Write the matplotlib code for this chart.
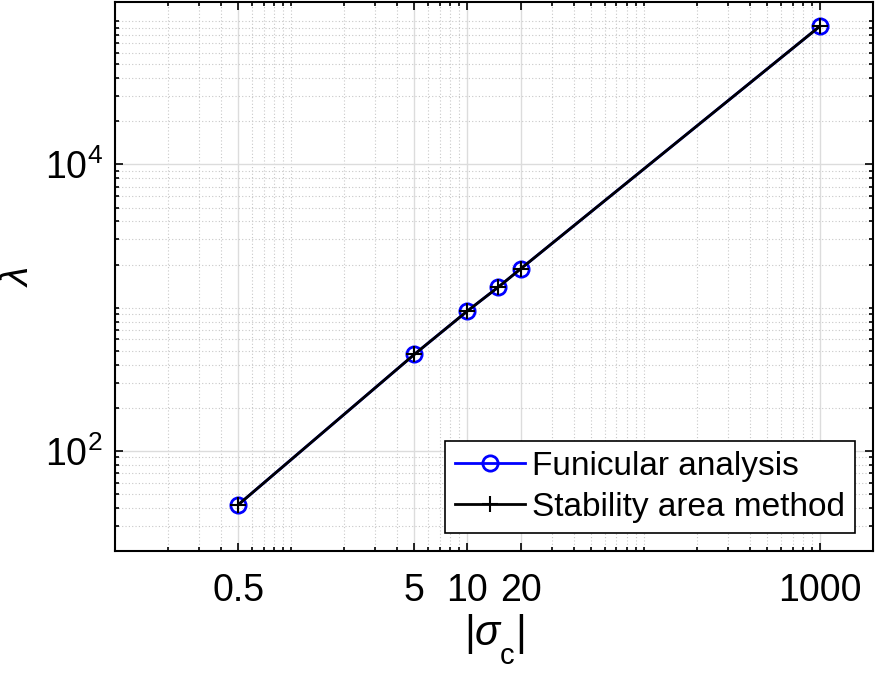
import numpy as np
import matplotlib
matplotlib.use("Agg")
import matplotlib.pyplot as plt
from matplotlib.ticker import LogLocator, FixedLocator, FixedFormatter, NullFormatter
try:
    import matplotlib._mathtext as _mt
    _mt.FontConstantsBase.sub1 = 0.85
except Exception:
    pass

plt.rcParams['font.family'] = ['Liberation Sans', 'DejaVu Sans']
plt.rcParams['mathtext.fontset'] = 'custom'
plt.rcParams['mathtext.rm'] = 'Liberation Sans'
plt.rcParams['mathtext.it'] = 'Liberation Sans:italic'
plt.rcParams['mathtext.bf'] = 'Liberation Sans:bold'

sigma_c = [0.5, 5, 10, 15, 20, 1000]
lam_funicular = [42, 472, 948, 1395, 1862, 92200]
lam_stability = [42, 472, 948, 1395, 1862, 92200]

x_ticks = [0.5, 5, 10, 20, 1000]
x_ticklabels = ['0.5', '5', '10', '20', '1000']
y_ticks = [1e2, 1e4]
y_ticklabels = [r'$10^{2}$', r'$10^{4}$']

fig = plt.figure(figsize=(8.75, 6.73), dpi=100)
ax = fig.add_axes([0.1314, 0.1813, 0.9977 - 0.1314, 0.9963 - 0.1813])

ax.set_xscale('log')
ax.set_yscale('log')

ax.plot(sigma_c, lam_funicular, color='#0000ff', lw=2.0, marker='o', ms=11,
        mfc='none', mec='#0000ff', mew=2.0, label='Funicular analysis', zorder=3)
ax.plot(sigma_c, lam_stability, color='black', lw=2.0, marker='+', ms=11,
        mew=1.5, label='Stability area method', zorder=4)

ax.set_xlim(0.1, 2000)
ax.set_ylim(20, 1.35e5)

ax.xaxis.set_major_locator(FixedLocator(x_ticks))
ax.xaxis.set_major_formatter(FixedFormatter(x_ticklabels))
ax.xaxis.set_minor_locator(LogLocator(base=10, subs=np.arange(1, 10), numticks=100))
ax.xaxis.set_minor_formatter(NullFormatter())
ax.yaxis.set_major_locator(FixedLocator(y_ticks))
ax.yaxis.set_major_formatter(FixedFormatter(y_ticklabels))
ax.yaxis.set_minor_locator(LogLocator(base=10, subs=np.arange(1, 10), numticks=100))
ax.yaxis.set_minor_formatter(NullFormatter())

ax.tick_params(which='both', direction='in', top=True, right=True, width=1.2)
ax.tick_params(which='major', length=6)
ax.tick_params(which='minor', length=3)
ax.tick_params(axis='x', which='major', labelsize=27, pad=16)
ax.tick_params(axis='y', which='major', labelsize=27, pad=9)

ax.grid(True, which='major', color='#dcdcdc', lw=1.0, ls='-')
ax.grid(True, which='minor', color='#c8c8c8', lw=0.8, ls=(0, (1, 2)))
ax.set_axisbelow(True)

for s in ax.spines.values():
    s.set_linewidth(1.5)

ax.set_xlabel(r'$|\sigma_{\rm c}|$', fontsize=30, labelpad=2)
ax.set_ylabel(r'$\lambda$', fontsize=28, labelpad=6)

leg = ax.legend(loc='lower right', fontsize=24, frameon=True, fancybox=False,
                edgecolor='black', framealpha=1, handlelength=2.1, handletextpad=0.2,
                borderpad=0.3, labelspacing=0.3, borderaxespad=0.55)
leg.get_frame().set_linewidth(1.2)

fig.savefig('out.png', dpi=100)
